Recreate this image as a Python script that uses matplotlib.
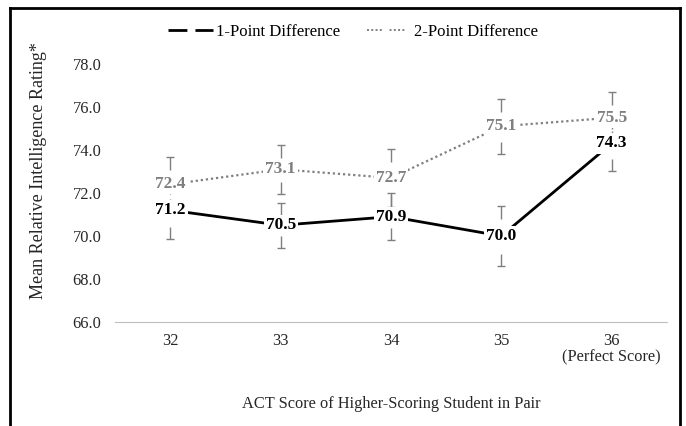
import matplotlib.pyplot as plt
from matplotlib.lines import Line2D

# values
categories = ["32", "33", "34", "35", "36\n(Perfect Score)"]
one_point = [71.2, 70.5, 70.9, 70.0, 74.3]
two_point = [72.4, 73.1, 72.7, 75.1, 75.5]
one_point_err = [1.35, 1.05, 1.1, 1.4, 1.28]
two_point_err = [1.25, 1.15, 1.35, 1.28, 1.2]

plt.rcParams['font.family'] = ['Liberation Serif', 'DejaVu Serif']

fig = plt.figure(figsize=(6.86, 4.26), dpi=100)
ax = fig.add_axes([0.168, 0.244, 0.804, 0.606])

x = list(range(len(categories)))
gray = "#7f7f7f"
dark = "#262626"

ax.plot(x, one_point, color="black", lw=2, zorder=2)
ax.plot(x, two_point, color=gray, lw=1.6, linestyle=(0, (1, 1.3)), zorder=2)

# error caps: a cap with a short stem, the middle of the bar sits behind the label
for vals, errs in [(one_point, one_point_err), (two_point, two_point_err)]:
    up = [v + e for v, e in zip(vals, errs)]
    lo = [v - e for v, e in zip(vals, errs)]
    ax.plot(x, up, ls="none", marker="_", ms=6, mew=1, color=gray, zorder=1)
    ax.plot(x, up, ls="none", marker=3, ms=9, mew=1, color=gray, zorder=1)
    ax.plot(x, lo, ls="none", marker="_", ms=6, mew=1, color=gray, zorder=1)
    ax.plot(x, lo, ls="none", marker=2, ms=9, mew=1, color=gray, zorder=1)

# data labels
for xi, v in zip(x, one_point):
    ax.text(xi, v, f"{v:.1f}", ha="center", va="center", fontsize=12.5,
            fontweight="bold", color="black", zorder=5,
            bbox=dict(facecolor="white", edgecolor="none", pad=1.5))
for xi, v in zip(x, two_point):
    ax.text(xi, v, f"{v:.1f}", ha="center", va="center", fontsize=12.5,
            fontweight="bold", color=gray, zorder=5,
            bbox=dict(facecolor="white", edgecolor="none", pad=1.5))

ax.set_xlim(-0.5, len(categories) - 0.5)
ax.set_ylim(66, 78)
yticks = [66, 68, 70, 72, 74, 76, 78]
ax.set_yticks(yticks)
ax.set_yticklabels([f"{t:.1f}" for t in yticks])
ax.set_xticks(x)
ax.set_xticklabels(categories, linespacing=1.05)
ax.tick_params(axis="both", length=0, labelsize=11.8, colors=dark)
ax.tick_params(axis="x", pad=8)
ax.tick_params(axis="y", pad=10)

for s in ["top", "right", "left"]:
    ax.spines[s].set_visible(False)
ax.spines["bottom"].set_color("#bfbfbf")

ax.set_ylabel("Mean Relative Intelligence Rating*", fontsize=13, color=dark)
ax.yaxis.set_label_coords(-0.123, 0.585)
ax.set_xlabel("ACT Score of Higher-Scoring Student in Pair", fontsize=11.8,
              color=dark, labelpad=22)

handles = [
    Line2D([], [], color="black", lw=2, linestyle=(0, (6.8, 2.9))),
    Line2D([], [], color=gray, lw=1.4,
           linestyle=(0, (1, 1.2, 1, 1.2, 1, 1.2, 1, 4))),
]
fig.legend(handles, ["1-Point Difference", "2-Point Difference"], loc="center",
           bbox_to_anchor=(0.515, 0.925), ncol=2, frameon=False, fontsize=12,
           handlelength=2.7, columnspacing=1.6, handletextpad=0.15)

# the frame around the picture (no bottom edge)
frame = dict(color="black", lw=2, transform=fig.transFigure)
fig.add_artist(Line2D([0.015, 0.015], [0, 0.981], **frame))
fig.add_artist(Line2D([0.991, 0.991], [0, 0.981], **frame))
fig.add_artist(Line2D([0.015, 0.991], [0.981, 0.981], **frame))

fig.savefig("out.png", dpi=100)
